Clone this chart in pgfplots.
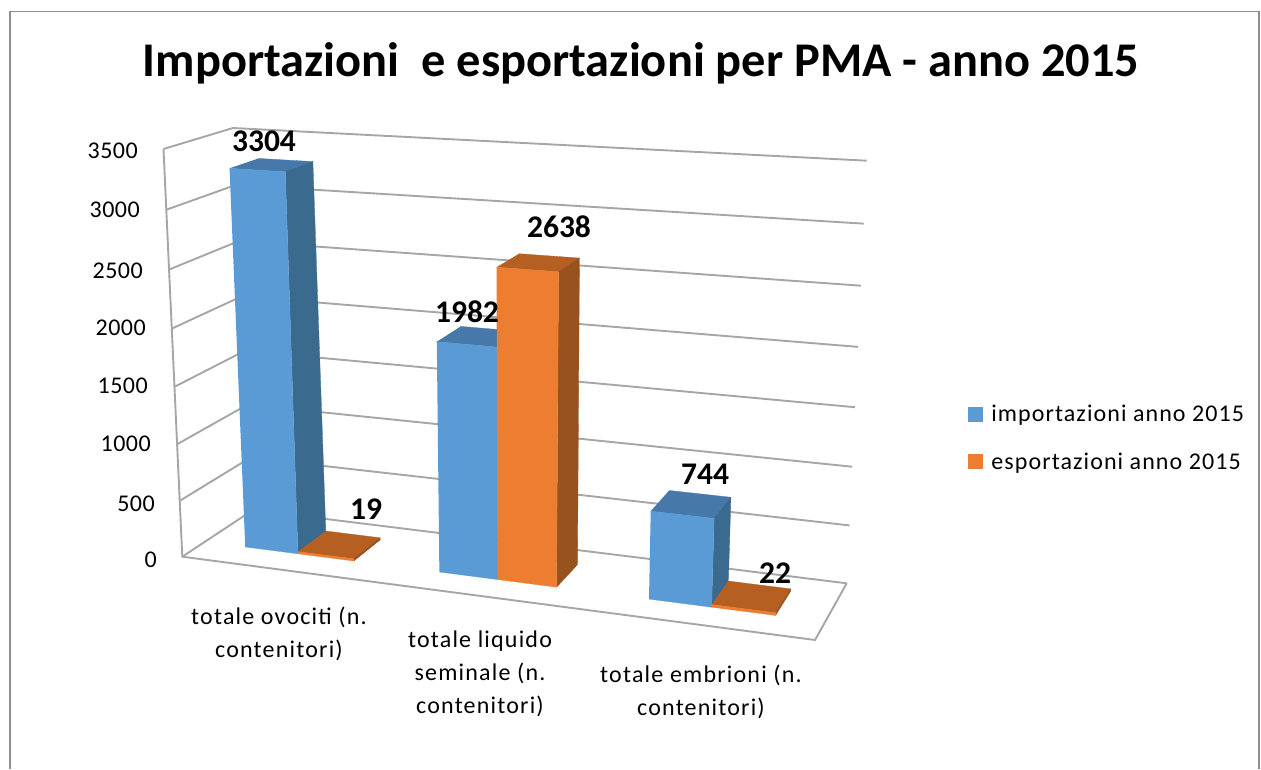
\documentclass[border=0pt]{standalone}
\usepackage{fontspec}
\setmainfont{Carlito}
\usepackage{pgfplots}
\pgfplotsset{compat=1.18}
\definecolor{gridc}{HTML}{A6A6A6}
\definecolor{framec}{HTML}{8E8E8E}
\definecolor{bluef}{HTML}{5B9BD5}
\definecolor{blues}{HTML}{3B6A8F}
\definecolor{bluet}{HTML}{4678A9}
\definecolor{orangef}{HTML}{ED7D31}
\definecolor{oranges}{HTML}{97521E}
\definecolor{oranget}{HTML}{B56022}
\pgfkeys{/pgfplots/table/proj/.style={/pgfplots/table/row sep=\\,
    /pgfplots/table/x expr={PX(\thisrow{u},\thisrow{v},\thisrow{z})},
    /pgfplots/table/y expr={PY(\thisrow{u},\thisrow{v},\thisrow{z})}}}
% one bar: u-left, u-right, value, front, side, top colours
\newcommand{\drawbar}[6]{%
  \addplot[fill=#6,draw=#6,line width=0.3pt,forget plot] table[proj] {u v z\\ #1 .32 #3\\ #2 .32 #3\\ #2 .75 #3\\ #1 .75 #3\\};
  \addplot[fill=#5,draw=#5,line width=0.3pt,forget plot] table[proj] {u v z\\ #2 .32 0\\ #2 .75 0\\ #2 .75 #3\\ #2 .32 #3\\};
  \addplot[fill=#4,draw=#4,line width=0.3pt,forget plot] table[proj] {u v z\\ #1 .32 0\\ #2 .32 0\\ #2 .32 #3\\ #1 .32 #3\\};
}
\newcommand{\gridl}[1]{%
  \addplot[gridc,line width=1.9pt,forget plot] table[proj] {u v z\\ 0 0 #1\\ 0 1 #1\\ 1 1 #1\\};
}
\newcommand{\ticklab}[3]{\node[anchor=east,inner sep=0pt] at (axis cs:#2,#3) {\fontsize{24}{28}\selectfont\addfontfeature{LetterSpace=2}#1};}
\newcommand{\datalab}[3]{\node[inner sep=0pt] at (axis cs:#2,#3) {\fontsize{31.5}{36}\selectfont\bfseries #1};}
\newcommand{\catfont}{\fontsize{24}{33}\selectfont\addfontfeature{LetterSpace=5}}
\begin{document}
\begin{tikzpicture}
\begin{axis}[
  scale only axis, width=1261pt, height=769pt,
  xmin=0, xmax=1261, ymin=0, ymax=769, y dir=reverse,
  hide axis, clip=false,
  declare function={
    T(\z)=(\z/3500)/(1+0.05*(1-\z/3500));
    XF(\u,\v)=182.3*(1-\u)*(1-\v)+815*\u*(1-\v)+253*(1-\u)*\v+846.7*\u*\v;
    XC(\u,\v)=163.5*(1-\u)*(1-\v)+834*\u*(1-\v)+233*(1-\u)*\v+866.7*\u*\v;
    YF(\u,\v)=556.7*(1-\u)*(1-\v)+640*\u*(1-\v)+510*(1-\u)*\v+583.3*\u*\v;
    YC(\u,\v)=149*(1-\u)*(1-\v)+189*\u*(1-\v)+128*(1-\u)*\v+160.7*\u*\v;
    PX(\u,\v,\z)=XF(\u,\v)+(XC(\u,\v)-XF(\u,\v))*T(\z);
    PY(\u,\v,\z)=YF(\u,\v)+(YC(\u,\v)-YF(\u,\v))*T(\z);
  },
  legend cell align=left,
  legend style={draw=none,fill=none,font=\fontsize{24}{28}\selectfont\addfontfeature{LetterSpace=4.5},
    at={(968/1261,1-438/769)},anchor=west,inner sep=0pt,outer sep=0pt,
    row sep=25pt},
  legend image code/.code={\fill[#1] (0pt,-7pt) rectangle (14pt,7pt);\path (0pt,0pt) (21pt,0pt);},
]
% page extent
\addplot[draw=none,forget plot] coordinates {(0,0) (1261,0) (1261,769) (0,769)};
% frame
\addplot[framec,line width=1.7pt,forget plot] coordinates {(10,769) (10,11.5) (1259,11.5) (1259,769)};
% walls and floor
\gridl{3500}\gridl{3000}\gridl{2500}\gridl{2000}\gridl{1500}\gridl{1000}\gridl{500}\gridl{0}
\addplot[gridc,line width=1.9pt,forget plot] table[proj] {u v z\\ 0 0 3500\\ 0 0 0\\ 1 0 0\\ 1 1 0\\};
% bars
\drawbar{.065}{.15}{3304}{bluef}{blues}{bluet}
\drawbar{.15}{.24}{19}{orangef}{oranges}{oranget}
\drawbar{.378}{.4715}{1982}{bluef}{blues}{bluet}
\drawbar{.4715}{.567}{2638}{orangef}{oranges}{oranget}
\drawbar{.716}{.817}{744}{bluef}{blues}{bluet}
\drawbar{.817}{.92}{22}{orangef}{oranges}{oranget}
\addlegendimage{bluef}\addlegendentry{importazioni anno 2015}
\addlegendimage{orangef}\addlegendentry{esportazioni anno 2015}
% title
\node[inner sep=0pt] at (axis cs:641,63) {\fontsize{48.4}{52}\selectfont\bfseries Importazioni\ \ e esportazioni per PMA - anno 2015};
% tick labels
\ticklab{3500}{138}{151}
\ticklab{3000}{140}{210}
\ticklab{2500}{143}{271}
\ticklab{2000}{146}{328}
\ticklab{1500}{148}{386}
\ticklab{1000}{151}{444}
\ticklab{500}{155}{504}
\ticklab{0}{157}{560}
% data labels
\datalab{3304}{264}{141}
\datalab{19}{366}{509}
\datalab{1982}{467}{312}
\datalab{2638}{559}{227}
\datalab{744}{705}{474}
\datalab{22}{775}{573}
% category labels
\node[inner sep=0pt,align=center,font=\catfont] at (axis cs:279,634) {totale ovociti (n.\\contenitori)};
\node[inner sep=0pt,align=center,font=\catfont] at (axis cs:480,674) {totale liquido\\seminale (n.\\contenitori)};
\node[inner sep=0pt,align=center,font=\catfont] at (axis cs:701,692) {totale embrioni (n.\\contenitori)};
\end{axis}
\end{tikzpicture}
\end{document}
